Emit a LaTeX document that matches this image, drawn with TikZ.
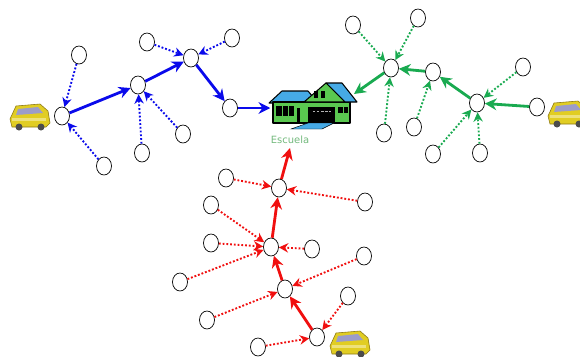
\documentclass[tikz,border=0pt]{standalone}
\usepackage{fontspec}
\newfontfamily\etiqueta{DejaVu Sans}
\usetikzlibrary{arrows.meta,shapes.geometric}

\definecolor{azul}{RGB}{10,10,235}
\definecolor{verde}{RGB}{25,170,80}
\definecolor{rojo}{RGB}{240,15,15}
\definecolor{techo}{RGB}{70,170,230}
\definecolor{muro}{RGB}{90,200,80}
\definecolor{texto}{RGB}{115,185,125}
\definecolor{amarillo}{RGB}{225,205,35}
\definecolor{oliva}{RGB}{140,120,20}

\tikzset{
    parada/.style={draw, ellipse, fill=white, line width=0.6pt,
        minimum width=0.45cm, minimum height=0.54cm, inner sep=0pt},
    ruta/.style={line width=2.4pt, -{Stealth[length=10pt,width=10pt]}},
    enlace/.style={line width=1.6pt, dash pattern=on 1.6pt off 1.6pt,
        -{Stealth[length=8pt,width=8pt]}},
    furgon/.pic={
        \draw[oliva, fill=amarillo, line width=0.5pt] (-20,4) -- (-14,-9) -- (10,-11) -- (18,-4) -- (20,8) -- (16,12) -- (-18,12) -- cycle;
        \fill[gray!70!blue!60] (-12,-6) -- (8,-8) -- (13,-2) -- (-14,0) -- cycle;
        \fill[amarillo!60!white] (-18,3) rectangle (16,6);
        \fill[black!70] (-11,12) circle (3.5) (11,12) circle (3.5);
    }
}

\begin{document}
\begin{tikzpicture}[x=0.03cm, y=-0.03cm]
    \useasboundingbox (0,0) rectangle (580,356);

    % escuela
    \node[minimum width=2.55cm, minimum height=1.35cm] (casa) at (313,103) {};
    \coordinate (tejado) at (354,94);
    \begin{scope}[line width=0.9pt, line join=round]
    \draw[black, fill=techo] (269,103) -- (282,91) -- (308,91) -- (318,103) -- cycle;
    \draw[black, fill=muro] (273,102) rectangle (350,123);
    \draw[black, fill=techo] (326,83) -- (342,83) -- (357,102) -- (345,102) -- cycle;
    \draw[black, fill=muro] (304,102) -- (326,83) -- (345,102) -- cycle;
    \end{scope}
    \fill[black] (276,106) rectangle (294,116);
    \draw[muro, line width=0.8pt] (282,106) -- (282,116) (288,106) -- (288,116);
    \fill[black] (297,108) rectangle (300,123);
    \fill[black] (314,91) rectangle (318,98);
    \fill[black] (321,91) rectangle (325,98);
    \fill[black] (308,107) rectangle (335,123);
    \draw[gray!60, line width=0.8pt, dash pattern=on 2pt off 1.5pt] (313,111) -- (331,111);
    \fill[black] (338,107) rectangle (348,113);
    \draw[muro, line width=0.8pt] (343,107) -- (343,113);
    \draw[black, fill=techo] (291,129) -- (308,123) -- (334,123) -- (322,129) -- cycle;
    \node[text=texto, font=\etiqueta\fontsize{8.5}{10}\selectfont] (escuela) at (290,140) {Escuela};

    % furgones
    \pic at (30,115) {furgon};
    \pic at (568,112) {furgon};
    \pic at (350,342) {furgon};

    % ruta azul
    \node[parada] (b1) at (62,116) {};
    \node[parada] (b2) at (138,85) {};
    \node[parada] (b3) at (191,58) {};
    \node[parada] (b4) at (230,108) {};
    \node[parada] (b5) at (79,55) {};
    \node[parada] (b6) at (104,166) {};
    \node[parada] (b7) at (147,42) {};
    \node[parada] (b8) at (232,38) {};
    \node[parada] (b9) at (142,153) {};
    \node[parada] (b10) at (183,134) {};
    \draw[ruta, azul] (b1) -- (b2);
    \draw[ruta, azul] (b2) -- (b3);
    \draw[ruta, azul] (b3) -- (b4);
    \draw[ruta, azul] (b4) -- (b4 -| casa.west);
    \draw[enlace, azul] (b5) -- (b1);
    \draw[enlace, azul] (b6) -- (b1);
    \draw[enlace, azul] (b7) -- (b3);
    \draw[enlace, azul] (b8) -- (b3);
    \draw[enlace, azul] (b9) -- (b2);
    \draw[enlace, azul] (b10) -- (b2);

    % ruta verde
    \node[parada] (g1) at (391,68) {};
    \node[parada] (g2) at (433,72) {};
    \node[parada] (g3) at (477,103) {};
    \node[parada] (g4) at (537,107) {};
    \node[parada] (g5) at (353,25) {};
    \node[parada] (g6) at (418,18) {};
    \node[parada] (g7) at (384,133) {};
    \node[parada] (g8) at (414,127) {};
    \node[parada] (g9) at (523,67) {};
    \node[parada] (g10) at (433,154) {};
    \node[parada] (g11) at (480,153) {};
    \draw[ruta, verde] (g4) -- (g3);
    \draw[ruta, verde] (g3) -- (g2);
    \draw[ruta, verde] (g2) -- (g1);
    \draw[ruta, verde] (g1) -- (tejado);
    \draw[enlace, verde] (g5) -- (g1);
    \draw[enlace, verde] (g6) -- (g1);
    \draw[enlace, verde] (g7) -- (g1);
    \draw[enlace, verde] (g8) -- (g2);
    \draw[enlace, verde] (g9) -- (g3);
    \draw[enlace, verde] (g10) -- (g3);
    \draw[enlace, verde] (g11) -- (g3);

    % ruta roja
    \node[parada] (r1) at (279,188) {};
    \node[parada] (r2) at (271,247) {};
    \node[parada] (r3) at (285,289) {};
    \node[parada] (r4) at (317,337) {};
    \node[parada] (r5) at (226,178) {};
    \node[parada] (r6) at (365,202) {};
    \node[parada] (r7) at (211,205) {};
    \node[parada] (r8) at (211,243) {};
    \node[parada] (r9) at (312,249) {};
    \node[parada] (r10) at (180,282) {};
    \node[parada] (r11) at (364,256) {};
    \node[parada] (r12) at (207,320) {};
    \node[parada] (r13) at (348,296) {};
    \node[parada] (r14) at (258,347) {};
    \draw[ruta, rojo] (r4) -- (r3);
    \draw[ruta, rojo] (r3) -- (r2);
    \draw[ruta, rojo] (r2) -- (r1);
    \draw[ruta, rojo] (r1) -- (escuela.south);
    \draw[enlace, rojo] (r5) -- (r1);
    \draw[enlace, rojo] (r6) -- (r1);
    \draw[enlace, rojo] (r7) -- (r2);
    \draw[enlace, rojo] (r8) -- (r2);
    \draw[enlace, rojo] (r9) -- (r2);
    \draw[enlace, rojo] (r10) -- (r2);
    \draw[enlace, rojo] (r11) -- (r3);
    \draw[enlace, rojo] (r12) -- (r3);
    \draw[enlace, rojo] (r13) -- (r4);
    \draw[enlace, rojo] (r14) -- (r4);
\end{tikzpicture}
\end{document}
